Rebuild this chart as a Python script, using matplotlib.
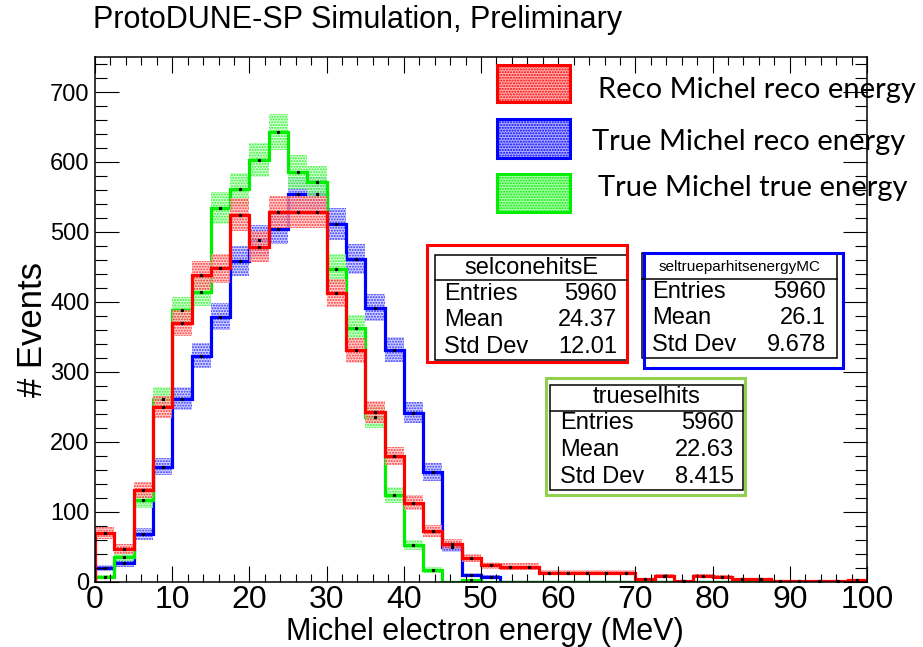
import numpy as np
import matplotlib
matplotlib.use("Agg")
import matplotlib.pyplot as plt
from matplotlib.patches import Rectangle
from matplotlib.ticker import MultipleLocator

# 40 bins of 2.5 MeV, 0-100 MeV
edges = np.arange(0, 100.01, 2.5)

reco_michel_reco = [70, 47, 132, 250, 370, 438, 448, 525, 479, 528,
                    528, 528, 413, 331, 243, 180, 113, 73, 54, 34,
                    24, 22, 22, 13, 13, 13, 13, 13, 4, 8,
                    1, 9, 7, 4, 4, 1, 2, 1, 1, 3]
true_michel_reco = [20, 27, 69, 165, 262, 323, 379, 458, 488, 505,
                    555, 555, 511, 462, 392, 332, 242, 157, 50, 10,
                    7, 0, 0, 0, 0, 0, 0, 0, 0, 0,
                    0, 0, 0, 0, 0, 0, 0, 0, 0, 0]
true_michel_true = [7, 36, 117, 262, 388, 415, 534, 561, 603, 643,
                    586, 571, 447, 363, 236, 124, 53, 17, 0, 3,
                    0, 0, 0, 0, 0, 0, 0, 0, 0, 0,
                    0, 0, 0, 0, 0, 0, 0, 0, 0, 0]

legend_labels = ["Reco Michel reco energy", "True Michel reco energy", "True Michel true energy"]
stat_names = ["selconehitsE", "seltrueparhitsenergyMC", "trueselhits"]
stat_entries = ["5960", "5960", "5960"]
stat_means = ["24.37", "26.1", "22.63"]
stat_stds = ["12.01", "9.678", "8.415"]

W, H = 923, 647
plt.rcParams["font.family"] = ["Liberation Sans", "DejaVu Sans"]
plt.rcParams["hatch.linewidth"] = 1.0

fig = plt.figure(figsize=(W / 100, H / 100), dpi=100)
ax = fig.add_axes([95 / W, 1 - 582 / H, 772 / W, 525 / H])


def draw_hist(vals, color, light):
    v = np.array(vals, dtype=float)
    err = np.sqrt(v)
    ax.stairs(v + err, edges, baseline=v - err, fill=True, facecolor=light,
              edgecolor=color, hatch="......", linewidth=0, alpha=0.75)
    ax.stairs(v, edges, color=color, lw=2.3)
    centers = 0.5 * (edges[1:] + edges[:-1])
    ax.plot(centers[v > 0], v[v > 0], "s", ms=1.3, color="k", lw=0)


draw_hist(true_michel_reco, "#0000ff", "#c8c8ff")
draw_hist(true_michel_true, "#00ee00", "#c8ffc8")
draw_hist(reco_michel_reco, "#ff0000", "#ffc8c8")

ax.set_xlim(0, 100)
ax.set_ylim(0, 750)
ax.xaxis.set_major_locator(MultipleLocator(10))
ax.xaxis.set_minor_locator(MultipleLocator(2))
ax.yaxis.set_major_locator(MultipleLocator(100))
ax.yaxis.set_minor_locator(MultipleLocator(20))
ax.tick_params(which="both", direction="in", top=True, right=True, width=0.8)
ax.tick_params(axis="x", which="major", length=11.5, labelsize=23, pad=2)
ax.tick_params(axis="x", which="minor", length=5.8)
ax.tick_params(axis="y", which="major", length=17, labelsize=17, pad=4)
ax.tick_params(axis="y", which="minor", length=8.6)
for s in ax.spines.values():
    s.set_linewidth(1.1)

fig.text(93 / W, 1 - 20 / H, "ProtoDUNE-SP Simulation, Preliminary",
         fontsize=22, va="center", ha="left")
fig.text(485 / W, 1 - 632 / H, "Michel electron energy (MeV)",
         fontsize=22, va="center", ha="center")
fig.text(32 / W, 1 - 330 / H, "# Events", fontsize=25, rotation=90,
         va="center", ha="center")

# overlay in pixel coordinates for legend and stat boxes
ov = fig.add_axes([0, 0, 1, 1])
ov.set_xlim(0, W)
ov.set_ylim(H, 0)
ov.axis("off")

leg_colors = ["#ff0000", "#0000ff", "#00ee00"]
leg_light = ["#ffb0b0", "#b0b0ff", "#b0ffb0"]
leg_boxes = [(497, 65, 73, 37), (497, 119, 73, 39), (497, 174, 73, 38)]
leg_text = [(598, 90), (592, 142), (598, 188)]
for lab, c, lc, b, t in zip(legend_labels, leg_colors, leg_light, leg_boxes, leg_text):
    ov.add_patch(Rectangle((b[0], b[1]), b[2], b[3], facecolor=lc,
                           edgecolor=c, hatch="......", lw=0))
    ov.add_patch(Rectangle((b[0], b[1]), b[2], b[3], facecolor="none",
                           edgecolor=c, lw=2.2))
    ov.text(t[0], t[1], lab, fontsize=21, va="center", ha="left",
            family=["Lato", "DejaVu Sans"])

# stat boxes: inner box, divider, outline, text positions
inner = [(435, 255, 627, 360), (642, 253, 837, 358), (550, 385, 743, 490)]
outer = [(427, 245, 627, 362), (644, 253, 843, 368), (546, 378, 745, 495)]
outer_col = ["#ff0000", "#0000ff", "#92d050"]
divider = [280, 279, 411]
title_y = [268, 267, 397]
title_size = [17, 11, 17]
rows_y = [(294, 320, 347), (292, 318, 345), (423, 450, 477)]
cols_x = [(444, 617), (652, 826), (560, 734)]

for i in range(3):
    x0, y0, x1, y1 = inner[i]
    ov.add_patch(Rectangle((x0, y0), x1 - x0, y1 - y0, facecolor="white",
                           edgecolor="black", lw=1.1))
    ov.plot([x0, x1], [divider[i], divider[i]], color="black", lw=1.1)
    ov.text((x0 + x1) / 2, title_y[i], stat_names[i], fontsize=title_size[i],
            ha="center", va="center")
    labels = ["Entries", "Mean", "Std Dev"]
    values = [stat_entries[i], stat_means[i], stat_stds[i]]
    for lab, val, y in zip(labels, values, rows_y[i]):
        ov.text(cols_x[i][0], y, lab, fontsize=17, ha="left", va="center")
        ov.text(cols_x[i][1], y, val, fontsize=17, ha="right", va="center")
    a0, b0, a1, b1 = outer[i]
    ov.add_patch(Rectangle((a0, b0), a1 - a0, b1 - b0, facecolor="none",
                           edgecolor=outer_col[i], lw=2.2))

fig.savefig("out.png", dpi=100)
